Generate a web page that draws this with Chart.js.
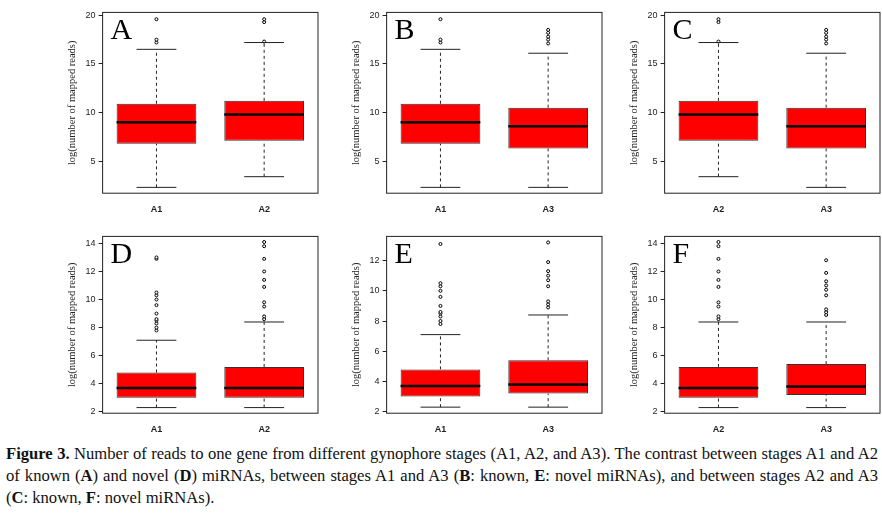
<!DOCTYPE html>
<html>
<head>
<meta charset="utf-8">
<script src="https://cdn.jsdelivr.net/npm/chart.js@4"></script>
<style>
body { margin:0; background:#fff; width:882px; height:518px; position:relative; overflow:hidden; }
.panel { position:absolute; width:262px; }
#caption { position:absolute; left:6px; top:443px; width:872px; font-family:"Liberation Serif", serif; font-size:16.6px; line-height:22px; color:#111; text-align:justify; }
</style>
</head>
<body>
<div class="panel" style="left:62px;top:4px;height:214px"><canvas id="cA"></canvas></div>
<div class="panel" style="left:346px;top:4px;height:214px"><canvas id="cB"></canvas></div>
<div class="panel" style="left:624px;top:4px;height:214px"><canvas id="cC"></canvas></div>
<div class="panel" style="left:62px;top:228px;height:210px"><canvas id="cD"></canvas></div>
<div class="panel" style="left:346px;top:228px;height:210px"><canvas id="cE"></canvas></div>
<div class="panel" style="left:624px;top:228px;height:210px"><canvas id="cF"></canvas></div>
<div id="caption"><b>Figure 3.</b> Number of reads to one gene from different gynophore stages (A1, A2, and A3). The contrast between stages A1 and A2 of known (<b>A</b>) and novel (<b>D</b>) miRNAs, between stages A1 and A3 (<b>B</b>: known, <b>E</b>: novel miRNAs), and between stages A2 and A3 (<b>C</b>: known, <b>F</b>: novel miRNAs).</div>
<script>
// Box stats: [low whisker, q1, median, q3, high whisker], outliers
let known = {
    A1: { box: [2.3, 6.8, 9.0, 10.9, 16.5], out: [17.2, 17.5, 19.6] },
    A2: { box: [3.4, 7.1, 9.8, 11.2, 17.2], out: [17.3, 19.3, 19.6] },
    A3: { box: [2.3, 6.3, 8.6, 10.5, 16.1], out: [17.1, 17.5, 17.8, 18.2, 18.5] }
};
let novel = {
    A1: { box: [2.3, 3.0, 3.7, 4.8, 7.1], out: [7.8, 8.0, 8.3, 8.5, 8.6, 9.0, 9.6, 10.0, 10.3, 10.5, 12.9, 13.0] },
    A2: { box: [2.3, 3.0, 3.7, 5.2, 8.4], out: [8.6, 8.8, 9.5, 9.8, 10.9, 11.4, 12.0, 12.9, 13.8, 14.1] },
    A3: { box: [2.3, 3.2, 3.8, 5.4, 8.4], out: [8.9, 9.1, 9.3, 10.3, 10.7, 11.0, 11.3, 11.9, 13.2] }
};
let novelE = JSON.parse(JSON.stringify(novel));
novelE.A1.out = [7.8, 8.0, 8.3, 8.5, 8.6, 9.0, 9.6, 10.0, 10.3, 10.5, 13.1];
let novelF = JSON.parse(JSON.stringify(novel));
novelF.A3.out = [8.9, 9.1, 9.3, 10.3, 10.7, 11.0, 11.3, 11.9, 12.8];

let panels = [
    { id: "cA", letter: "A", src: known, groups: ["A1", "A2"], min: 1.7, max: 20.3, step: 5 },
    { id: "cB", letter: "B", src: known, groups: ["A1", "A3"], min: 1.7, max: 20.3, step: 5 },
    { id: "cC", letter: "C", src: known, groups: ["A2", "A3"], min: 1.7, max: 20.3, step: 5 },
    { id: "cD", letter: "D", src: novel, groups: ["A1", "A2"], min: 1.9, max: 14.5, step: 2 },
    { id: "cE", letter: "E", src: novelE, groups: ["A1", "A3"], min: 1.9, max: 13.6, step: 2 },
    { id: "cF", letter: "F", src: novelF, groups: ["A2", "A3"], min: 1.9, max: 14.5, step: 2 }
];

// Whiskers, medians, frame and panel letter drawn through the chart scales
let boxPlugin = {
    id: "boxExtras",
    afterDatasetsDraw(chart) {
        let ctx = chart.ctx, x = chart.scales.x, y = chart.scales.y;
        let p = chart.options.plugins.boxExtras;
        let meta = chart.getDatasetMeta(0);
        ctx.save();
        p.stats.forEach((s, i) => {
            let bar = meta.data[i];
            let cx = bar.x, half = bar.width / 2, cap = half / 2;
            ctx.strokeStyle = "#222";
            ctx.lineWidth = 1;
            ctx.setLineDash([3, 3]);
            ctx.beginPath();
            ctx.moveTo(cx, y.getPixelForValue(s[0])); ctx.lineTo(cx, y.getPixelForValue(s[1]));
            ctx.moveTo(cx, y.getPixelForValue(s[3])); ctx.lineTo(cx, y.getPixelForValue(s[4]));
            ctx.stroke();
            ctx.setLineDash([]);
            ctx.beginPath();
            [s[0], s[4]].forEach(v => {
                ctx.moveTo(cx - cap, y.getPixelForValue(v)); ctx.lineTo(cx + cap, y.getPixelForValue(v));
            });
            ctx.stroke();
            ctx.lineWidth = 2.5;
            ctx.strokeStyle = "#000";
            ctx.beginPath();
            ctx.moveTo(cx - half, y.getPixelForValue(s[2])); ctx.lineTo(cx + half, y.getPixelForValue(s[2]));
            ctx.stroke();
        });
        let a = chart.chartArea;
        ctx.lineWidth = 1;
        ctx.strokeStyle = "#222";
        ctx.strokeRect(a.left, a.top, a.right - a.left, a.bottom - a.top);
        ctx.fillStyle = "#000";
        ctx.font = "30px 'Liberation Serif'";
        ctx.textBaseline = "top";
        ctx.fillText(p.letter, a.left + 8, a.top + 4);
        ctx.restore();
    }
};

panels.forEach(pn => {
    let stats = pn.groups.map(g => pn.src[g].box);
    let outs = [];
    pn.groups.forEach(g => pn.src[g].out.forEach(v => outs.push({ x: g, y: v })));
    new Chart(document.getElementById(pn.id), {
        type: "bar",
        data: {
            labels: pn.groups,
            datasets: [{
                data: stats.map(s => [s[1], s[3]]),
                backgroundColor: "#ff0000",
                borderColor: "#333",
                borderWidth: 1,
                borderSkipped: false,
                barPercentage: 0.74,
                categoryPercentage: 1.0
            }, {
                type: "line",
                data: outs,
                showLine: false,
                pointRadius: 1.5,
                pointBackgroundColor: "#fff",
                pointBorderColor: "#000",
                pointBorderWidth: 1
            }]
        },
        options: {
            animation: false,
            responsive: true,
            maintainAspectRatio: false,
            layout: { padding: { top: 8, right: 6 } },
            plugins: { legend: { display: false }, tooltip: { enabled: false },
                boxExtras: { stats: stats, letter: pn.letter } },
            scales: {
                x: {
                    grid: { display: false },
                    border: { display: false },
                    ticks: { color: "#222", font: { family: "Liberation Sans", size: 9, weight: "bold" } }
                },
                y: {
                    min: pn.min, max: pn.max,
                    afterBuildTicks: sc => {
                        let t = [];
                        for (let v = Math.ceil(pn.min / pn.step) * pn.step; v <= pn.max; v += pn.step) t.push({ value: v });
                        sc.ticks = t;
                    },
                    grid: { drawOnChartArea: false, tickLength: 4, color: "#222" },
                    border: { display: false },
                    title: { display: true, text: "log(number of mapped reads)", color: "#222",
                        font: { family: "Liberation Serif", size: 10.5 } },
                    ticks: { color: "#222", font: { family: "Liberation Sans", size: 9 } }
                }
            }
        },
        plugins: [boxPlugin]
    });
});
</script>
</body>
</html>
